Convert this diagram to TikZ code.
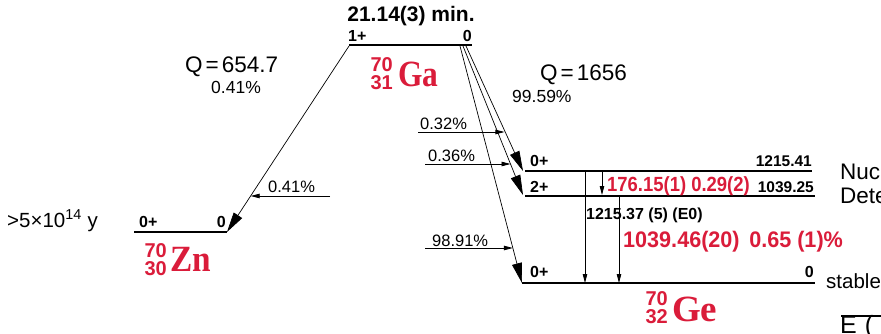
\documentclass[tikz,border=0pt]{standalone}
\usepackage{fontspec}
\setmainfont{Liberation Sans}
\newfontfamily\serifb{Liberation Serif}
\usepackage{graphicx}
\usetikzlibrary{arrows.meta}
\definecolor{nucred}{RGB}{218,28,58}
\newcommand\fs[1]{\fontsize{#1}{#1}\selectfont}
\begin{document}
\begin{tikzpicture}[x=1pt,y=-1pt,
  lvl/.style={line width=2.6pt},
  thinlvl/.style={line width=1.8pt},
  bigarr/.style={-{Triangle[length=20pt,width=10pt]}, line width=0.7pt},
  smallarr/.style={-{Triangle[length=9pt,width=4.5pt]}, line width=0.8pt},
  spin/.style={font=\fs{16}\bfseries, inner sep=0pt},
  pct/.style={font=\fs{17.5}, inner sep=0pt},
  qlab/.style={font=\fs{22.5}, inner sep=0pt},
  nucAZ/.style={font=\fontsize{20}{17.5}\selectfont\bfseries, text=nucred, inner sep=0pt, align=right, anchor=north east},
  nucE/.style={font=\serifb\fs{37}\bfseries, text=nucred, inner sep=0pt, text height=25pt, text depth=0pt},
  redlab/.style={text=nucred, inner sep=0pt},
  plain/.style={inner sep=0pt}
]
\useasboundingbox (0,0) rectangle (881,334);
\clip (0,0) rectangle (881,334);

% ---------- Ga parent ----------
\coordinate (gaL) at (349,45);
\coordinate (gaR) at (472,45);
\draw[lvl] (gaL) -- (gaR);
\node[plain, font=\fs{21}\bfseries, anchor=base] (title) at (411,22) {21.14(3) min.};
\node[spin, anchor=base west] (gaspin) at (348,42) {1+};
\node[spin, anchor=base east] (gaen) at (472,42) {0};
\node[nucAZ] (gaAZ) at (393,57.5) {70\\31};
\node[nucE, anchor=base west] (gaS) at (398,87) {\scalebox{0.85}[1]{Ga}};

% ---------- Zn daughter ----------
\coordinate (znL) at (134,232);
\coordinate (znR) at (227,232);
\draw[lvl] (znL) -- (znR);
\node[spin, anchor=base west] (znspin) at (139,227) {0+};
\node[spin, anchor=base east] (znen) at (226,227) {0};
\node[plain, font=\fs{20.5}, anchor=base west] (znhl) at (7,227) {>5×10\textsuperscript{14} y};
\node[nucAZ] (znAZ) at (167,243.5) {70\\30};
\node[nucE, anchor=base west] (znS) at (170,271) {\scalebox{0.9}[1]{Zn}};

\node[qlab, anchor=base west] (q1) at (185,73) {Q\kern3pt=\kern3pt654.7};
\node[pct, anchor=base west] (q1p) at (211,94) {0.41\%};

\draw[bigarr] (349,46) -- coordinate[pos=0.806] (tzn) (znR);
\coordinate (fzn) at (330,196);
\draw[smallarr] (fzn) -- (fzn -| tzn);
\node[pct, font=\fs{16.5}, anchor=base west] (fznl) at (268,193) {0.41\%};

% ---------- Ge daughter ----------
\coordinate (g1L) at (525,171);
\coordinate (g1R) at (812,171);
\coordinate (g2L) at (525,196);
\coordinate (g2R) at (815,196);
\coordinate (g0L) at (522,283);
\coordinate (g0R) at (815,283);
\draw[thinlvl] (g1L) -- (g1R);
\draw[thinlvl] (g2L) -- (g2R);
\draw[lvl] (g0L) -- (g0R);
\node[spin, anchor=base west] (g1s) at (530,167) {0+};
\node[spin, font=\fs{15.5}\bfseries, anchor=base east] (g1e) at (812,167) {1215.41};
\node[spin, anchor=base west] (g2s) at (530,192) {2+};
\node[spin, font=\fs{15.5}\bfseries, anchor=base east] (g2e) at (814,192) {1039.25};
\node[spin, anchor=base west] (g0s) at (530,277) {0+};
\node[spin, anchor=base east] (g0e) at (814,277) {0};
\node[plain, font=\fs{20.5}, anchor=base west] (stab) at (826,288) {stable};
\node[nucAZ] (geAZ) at (668,291.5) {70\\32};
\node[nucE, anchor=base west] (geS) at (672,321) {Ge};

\node[qlab, anchor=base west] (q2) at (540,81) {Q\kern3pt=\kern3pt1656};
\node[pct, anchor=base west] (q2p) at (512,103) {99.59\%};

% beta branches to Ge
\draw[bigarr] (466,46) -- coordinate[pos=0.675] (t32) (523,171);
\draw[bigarr] (463,46) -- coordinate[pos=0.792] (t36) (523,195);
\draw[bigarr] (460,46) -- coordinate[pos=0.852] (t99) (522,283);

\coordinate (f32) at (418,132);
\coordinate (f36) at (425,164);
\coordinate (f99) at (425,248);
\draw[smallarr] (f32) -- (f32 -| t32);
\draw[smallarr] (f36) -- (f36 -| t36);
\draw[smallarr] (f99) -- (f99 -| t99);
\node[pct, font=\fs{16.5}, anchor=base west] (l32) at (420,130) {0.32\%};
\node[pct, font=\fs{16.5}, anchor=base west] (l36) at (428,162) {0.36\%};
\node[pct, font=\fs{16.5}, anchor=base west] (l99) at (432,246) {98.91\%};

% gamma transitions
\coordinate (e0t) at (585,171);
\coordinate (e0b) at (585,283);
\coordinate (g1039t) at (619,196);
\coordinate (g1039b) at (619,283);
\coordinate (g176t) at (602,171);
\coordinate (g176b) at (602,195);
\draw[smallarr] (e0t) -- (e0b);
\draw[smallarr] (g1039t) -- (g1039b);
\draw[smallarr] (g176t) -- (g176b);
\node[redlab, font=\fs{20.5}\bfseries, anchor=base west] (l176) at (607,191) {\scalebox{0.9}[1]{176.15(1) 0.29(2)}};
\node[plain, font=\fs{16}\bfseries, anchor=base west] (le0) at (586,219) {1215.37 (5) (E0)};
\node[redlab, font=\fs{22.5}\bfseries, anchor=base west] (l1039) at (623,247) {\scalebox{0.96}[1]{1039.46(20)\hspace{10pt}0.65 (1)\%}};

% cut-off texts at right edge
\node[plain, font=\fs{22.5}, anchor=base west] (nuc) at (840,179) {Nuc};
\node[plain, font=\fs{22.5}, anchor=base west] (dete) at (840,203) {Dete};
\coordinate (boxL) at (841,316);
\coordinate (boxR) at (881,316);
\draw[line width=1.6pt] (boxL) -- (boxR);
\node[plain, font=\fs{25}, anchor=north west] (etxt) at (840,315.5) {E\kern8pt(};
\end{tikzpicture}
\end{document}
